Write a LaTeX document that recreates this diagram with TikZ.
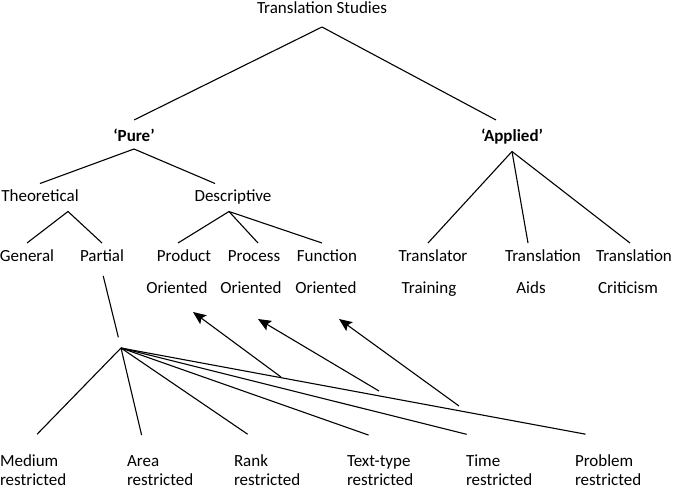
\documentclass[tikz,border=0pt]{standalone}
\usepackage{fontspec}
\setmainfont{Carlito}
\usetikzlibrary{arrows.meta,positioning}

\begin{document}
\begin{tikzpicture}[x=1pt, y=-1pt, line width=1.1pt,
  lbl/.style={anchor=base, inner sep=0pt, outer sep=6pt, text height=12pt, text depth=4pt, font=\fontsize{17}{19.5}\selectfont},
  hd/.style={lbl, font=\fontsize{17}{19.5}\selectfont\bfseries},
  bot/.style={anchor=base west, align=left, inner sep=0pt, outer sep=0pt, font=\fontsize{17}{19.5}\selectfont},
  >={Stealth[length=13pt,width=11pt,inset=2.5pt]}]
            \useasboundingbox (0,0) rectangle (674,487);
            \node[lbl] (ts) at (322,13.5) {Translation Studies};
            \node[hd] (pure) at (134,141.5) {‘Pure’};
            \node[hd] (appl) at (512,141.5) {‘Applied’};
            \node[lbl] (theo) at (40,201.5) {Theoretical};
            \node[lbl] (desc) at (233,201.5) {Descriptive};
            \node[lbl] (gen) at (27,261) {General};
            \node[lbl] (part) at (102,261) {Partial};
            \node[lbl] (prod) at (184,261) {Product};
            \node[lbl] (proc) at (254,261) {Process};
            \node[lbl] (func) at (327,261) {Function};
            \node[lbl] (or1) at (177,293) {Oriented};
            \node[lbl] (or2) at (251,293) {Oriented};
            \node[lbl] (or3) at (326,293) {Oriented};
            \node[lbl] (trnr) at (433,261) {Translator};
            \node[lbl] (trna) at (543,261) {Translation};
            \node[lbl] (trnc) at (634,261) {Translation};
            \node[lbl] (trng) at (429,293) {Training};
            \node[lbl] (aids) at (531,293) {Aids};
            \node[lbl] (crit) at (628,293) {Criticism};
            \node[bot] (med) at (0,485.5) {Medium\\restricted};
            \node[bot] (area) at (127,485.5) {Area\\restricted};
            \node[bot] (rank) at (234,485.5) {Rank\\restricted};
            \node[bot] (ttyp) at (347,485.5) {Text-type\\restricted};
            \node[bot] (time) at (466,485.5) {Time\\restricted};
            \node[bot] (prob) at (575,485.5) {Problem\\restricted};
            \coordinate (hub) at (121,348);
            \coordinate (t1) at (281,377);
            \coordinate (t2) at (379,391);
            \coordinate (t3) at (459,406);
            % upper tree
            \draw ([yshift=-3.5pt]ts.south) -- ([yshift=3.5pt]pure.north);
            \draw ([yshift=-3.5pt]ts.south) -- ([xshift=-16pt,yshift=3.5pt]appl.north);
            \draw ([yshift=2.5pt]pure.south) -- (theo.north);
            \draw ([yshift=2.5pt]pure.south) -- ([xshift=-18pt]desc.north);
            \draw ([xshift=28pt]theo.south) -- (gen.north);
            \draw ([xshift=28pt]theo.south) -- (part.north);
            \draw ([xshift=-4pt]desc.south) -- ([xshift=-6pt]prod.north);
            \draw ([xshift=-4pt]desc.south) -- ([xshift=4pt]proc.north);
            \draw ([xshift=-4pt]desc.south) -- ([xshift=-5pt]func.north);
            \draw (appl.south) -- ([xshift=-5pt]trnr.north);
            \draw (appl.south) -- ([xshift=-15pt]trna.north);
            \draw (appl.south) -- ([xshift=-4pt]trnc.north);
            % partial branch
            \draw[shorten <=5pt, shorten >=11pt] (part.south) -- (hub);
            \draw (hub) -- ([xshift=4pt,yshift=20pt]med.north);
            \draw (hub) -- ([xshift=-18.5pt,yshift=20pt]area.north);
            \draw (hub) -- ([xshift=-19.5pt,yshift=20pt]rank.north);
            \draw (hub) -- ([xshift=-11.5pt,yshift=20pt]ttyp.north);
            \draw (hub) -- ([xshift=-32.5pt,yshift=20pt]time.north);
            \draw (hub) -- ([xshift=-22.5pt,yshift=20pt]prob.north);
            \draw[->] (t1) -- ([xshift=16pt,yshift=-9pt]or1.south);
            \draw[->] (t2) -- ([xshift=7pt,yshift=-16pt]or2.south);
            \draw[->] (t3) -- ([xshift=13pt,yshift=-16pt]or3.south);
        \end{tikzpicture}
\end{document}
